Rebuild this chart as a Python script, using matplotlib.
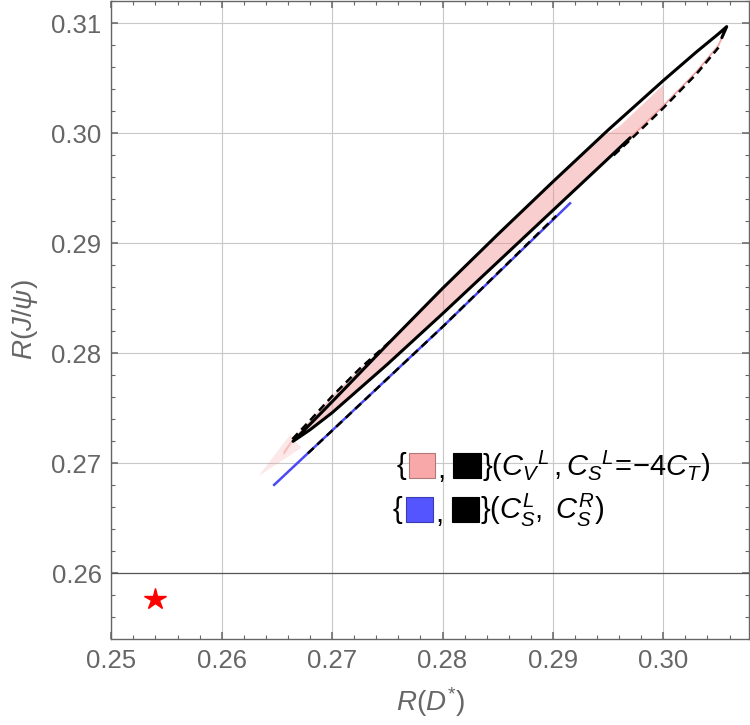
import numpy as np
import matplotlib.pyplot as plt
from matplotlib.patches import Rectangle
from matplotlib.ticker import MultipleLocator

plt.rcParams['font.family'] = ['Liberation Sans', 'DejaVu Sans']
plt.rcParams['mathtext.fontset'] = 'custom'
plt.rcParams['mathtext.rm'] = 'Liberation Sans'
plt.rcParams['mathtext.it'] = 'Liberation Sans:italic'

# black solid contour: upper branch (lower-left tip -> upper-right tip)
solid_up_x = [0.26646, 0.2680, 0.2700, 0.2750, 0.2800, 0.2850, 0.2900, 0.2950, 0.3000, 0.3030, 0.3050, 0.30574, 0.3053]
solid_up_y = [0.2720, 0.27355, 0.2756, 0.2808, 0.2859, 0.2908, 0.2956, 0.3003, 0.3048, 0.3074, 0.30905, 0.3097, 0.3087]
# lower branch (lower-left tip -> where it turns pink)
solid_lo_x = [0.26646, 0.2680, 0.2700, 0.2750, 0.2800, 0.2850, 0.2900, 0.2950, 0.2970]
solid_lo_y = [0.2720, 0.27305, 0.2746, 0.2790, 0.2836, 0.2883, 0.2930, 0.2977, 0.2996]

# thin pink edge near the upper tip
pink_edge_x = [0.2970, 0.3000, 0.3030, 0.3050, 0.30574]
pink_edge_y = [0.2996, 0.3025, 0.3056, 0.3080, 0.3097]

# dashed contour pieces
dash_up_x = [0.2664, 0.2680, 0.2700, 0.2725, 0.2755]
dash_up_y = [0.2722, 0.2739, 0.2761, 0.2786, 0.2813]
dash_lo_x = [0.2955, 0.2970, 0.3000, 0.3030, 0.3050]
dash_lo_y = [0.2980, 0.2994, 0.3023, 0.3054, 0.3078]

# pink region
fill_x = [0.2656, 0.2664, 0.2680, 0.2700, 0.2725, 0.2755, 0.2800, 0.2850, 0.2900, 0.2945, 0.2960, 0.3000,
          0.3000, 0.2970, 0.2955, 0.2950, 0.2900, 0.2850, 0.2800, 0.2750, 0.2700, 0.2680, 0.2664, 0.2656]
fill_y = [0.2711, 0.2722, 0.2739, 0.2761, 0.2786, 0.2813, 0.2859, 0.2908, 0.2956, 0.2997, 0.3006, 0.3044,
          0.3024, 0.2994, 0.2980, 0.2977, 0.2930, 0.2883, 0.2836, 0.2790, 0.2746, 0.27305, 0.2719, 0.2707]
tail_x = [0.2633, 0.2662, 0.2672]
tail_y = [0.2688, 0.2726, 0.2714]

# blue line (C_S^L, C_S^R) and its dashed black overlay
blue_x = [0.26475, 0.2800, 0.29155]
blue_y = [0.26804, 0.2824, 0.29364]
blue_dash_x = [0.2678, 0.2800, 0.2903]
blue_dash_y = [0.2709, 0.2824, 0.2925]

# SM point
sm_x, sm_y = 0.2540, 0.2577

fig = plt.figure(figsize=(7.5, 7.25), dpi=100)
ax = fig.add_axes([111.3 / 750, 86 / 725, 637.7 / 750, 638 / 725])

ax.fill(fill_x, fill_y, color='#f08c8c', alpha=0.42, lw=0, zorder=2)
ax.fill(tail_x, tail_y, color='#f08c8c', alpha=0.2, lw=0, zorder=2)

ax.plot(pink_edge_x, pink_edge_y, color='#f4a0a0', lw=1.2, zorder=3)
ax.plot(dash_up_x, dash_up_y, color='black', lw=1.8, dashes=(3.2, 2.0), zorder=3)
ax.plot(dash_lo_x, dash_lo_y, color='black', lw=1.8, dashes=(3.2, 2.0), zorder=3)
ax.plot(solid_lo_x[::-1] + solid_up_x, solid_lo_y[::-1] + solid_up_y,
        color='black', lw=2.2, solid_joinstyle='round', solid_capstyle='round', zorder=4)

ax.plot(blue_x, blue_y, color='#4a4af5', lw=1.8, zorder=3)
ax.plot(blue_dash_x, blue_dash_y, color='black', lw=1.8, dashes=(3.2, 2.0), zorder=3)

ax.plot(sm_x, sm_y, marker='*', color='red', markersize=16, mec='red', zorder=5)

ax.set_xlim(0.25, 0.30776)
ax.set_ylim(0.25403, 0.31203)

ax.xaxis.set_major_locator(MultipleLocator(0.01))
ax.yaxis.set_major_locator(MultipleLocator(0.01))
ax.xaxis.set_minor_locator(MultipleLocator(0.002))
ax.yaxis.set_minor_locator(MultipleLocator(0.002))
ax.xaxis.set_major_formatter(plt.FormatStrFormatter('%.2f'))
ax.yaxis.set_major_formatter(plt.FormatStrFormatter('%.2f'))

ax.set_axisbelow(True)
ax.grid(which='major', color='#c8c8c8', lw=0.8)
ax.axhline(0.26, color='#555555', lw=0.9, zorder=1)

for s in ax.spines.values():
    s.set_color('#666666')
    s.set_linewidth(1.0)
ax.tick_params(which='both', direction='in', top=True, right=True,
               color='#666666', labelcolor='#666666', labelsize=18.5)
ax.tick_params(which='major', length=5, width=1.1, pad=7)
ax.tick_params(which='minor', length=2.8, width=0.8)

ax.set_xlabel(r'$R(D^{*})$', fontsize=20, color='#666666', labelpad=9)
ax.set_ylabel(r'$R(J/\psi)$', fontsize=20, color='#666666', labelpad=8)


def px(x, y):
    return x / 750, 1 - y / 725


def square(x0, y0, x1, y1, fc, ec):
    fx0, fy1 = px(x0, y0)
    fx1, fy0 = px(x1, y1)
    fig.patches.append(Rectangle((fx0, fy0), fx1 - fx0, fy1 - fy0, transform=fig.transFigure,
                                 facecolor=fc, edgecolor=ec, lw=0.8, zorder=6))


leg_size = 21
fig.text(*px(397, 466), '{', fontsize=leg_size, ha='left', va='center')
square(409, 453, 435, 478, '#f8a8a8', '#b07878')
fig.text(*px(437, 470), ',', fontsize=leg_size, ha='left', va='center')
square(453, 453, 481, 478, 'black', 'black')
fig.text(*px(482, 466), r'$\}(C_V{}^L\,,C_S{}^L\!=\!{-}4C_T)$', fontsize=leg_size, ha='left', va='center')

fig.text(*px(393, 510), '{', fontsize=leg_size, ha='left', va='center')
square(406, 497, 433, 522, '#5555ff', '#3a3ab0')
fig.text(*px(435, 514), ',', fontsize=leg_size, ha='left', va='center')
square(452, 497, 479, 522, 'black', 'black')
fig.text(*px(480, 510), r'$\}(C_S^L,\ C_S^R)$', fontsize=leg_size, ha='left', va='center')

fig.savefig('out.png', dpi=100)
